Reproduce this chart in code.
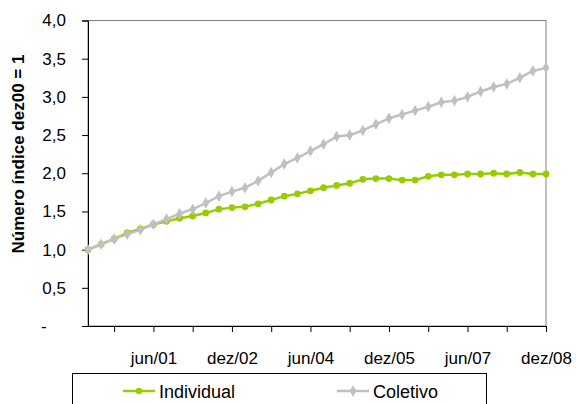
<!DOCTYPE html>
<html>
<head>
<meta charset="utf-8">
<script src="https://cdn.jsdelivr.net/npm/d3@7"></script>
<style>
  body { margin: 0; background: #fff; }
  svg { display: block; font-family: Arial, "Liberation Sans", sans-serif; }
</style>
</head>
<body>
<script>
// data - quarterly index, dez00 = 1
const quarters = [
  "mar/00", "jun/00", "set/00", "dez/00",
  "mar/01", "jun/01", "set/01", "dez/01",
  "mar/02", "jun/02", "set/02", "dez/02",
  "mar/03", "jun/03", "set/03", "dez/03",
  "mar/04", "jun/04", "set/04", "dez/04",
  "mar/05", "jun/05", "set/05", "dez/05",
  "mar/06", "jun/06", "set/06", "dez/06",
  "mar/07", "jun/07", "set/07", "dez/07",
  "mar/08", "jun/08", "set/08", "dez/08",
];
const individual = [
  1.00, 1.07, 1.14, 1.22, 1.27, 1.33, 1.37, 1.41, 1.44, 1.48, 1.53, 1.55,
  1.56, 1.60, 1.65, 1.70, 1.73, 1.77, 1.81, 1.84, 1.87, 1.92, 1.93, 1.93,
  1.91, 1.91, 1.96, 1.98, 1.98, 1.99, 1.99, 2.00, 1.99, 2.01, 1.99, 1.99,
];
const coletivo = [
  1.00, 1.07, 1.14, 1.20, 1.26, 1.33, 1.40, 1.47, 1.53, 1.61, 1.70, 1.76,
  1.81, 1.90, 2.01, 2.12, 2.20, 2.29, 2.38, 2.48, 2.50, 2.56, 2.64, 2.72,
  2.77, 2.82, 2.87, 2.93, 2.95, 3.00, 3.07, 3.13, 3.17, 3.25, 3.34, 3.38,
];
const yTicks = [0, 0.5, 1, 1.5, 2, 2.5, 3, 3.5, 4];
const seriesNames = ["Individual", "Coletivo"];
// ----------

const W = 576;
const H = 404;
const p = { t: 20.5, r: 30, b: 78, l: 88 };
const greenCol = "#99CC00";
const greyCol = "#C0C0C0";
const fontSize = 17;
// ----------

const svg = d3
  .select("body")
  .append("svg")
  .attr("width", W)
  .attr("height", H);

svg.append("rect").attr("width", W).attr("height", H).attr("fill", "#fff");

// scales
const x = d3
  .scalePoint()
  .domain(quarters)
  .range([p.l, W - p.r]);

const y = d3
  .scaleLinear()
  .domain([0, 4])
  .range([H - p.b, p.t]);
// ----------

// plot area border (grey)
svg
  .append("rect")
  .attr("x", p.l)
  .attr("y", y(4))
  .attr("width", x(quarters[quarters.length - 1]) - p.l)
  .attr("height", y(0) - y(4))
  .attr("fill", "none")
  .attr("stroke", "#808080")
  .attr("stroke-width", 1);

// y axis
const yAxis = svg
  .append("g")
  .attr("transform", `translate(${p.l}, 0)`)
  .call(
    d3
      .axisLeft(y)
      .tickValues(yTicks)
      .tickSize(6)
      .tickPadding(16)
      .tickFormat((d) => (d === 0 ? "-" : d3.format(".1f")(d).replace(".", ",")))
  );
yAxis.select(".domain").attr("stroke", "#000");
yAxis.selectAll(".tick line").attr("stroke", "#000");
yAxis
  .selectAll(".tick text")
  .attr("font-size", fontSize)
  .attr("font-family", "Arial, 'Liberation Sans', sans-serif")
  .attr("fill", "#000");
// the zero label sits further left, like the accounting format
yAxis
  .selectAll(".tick text")
  .filter((d) => d === 0)
  .attr("text-anchor", "start")
  .attr("x", -47);
// ----------

// x axis - ticks every 3 quarters, labels every 6
const xAxis = svg
  .append("g")
  .attr("transform", `translate(0, ${y(0)})`)
  .call(
    d3
      .axisBottom(x)
      .tickValues(quarters.filter((d, i) => i % 3 === 2))
      .tickSize(6)
      .tickSizeOuter(0)
      .tickPadding(20)
      .tickFormat((d) => (quarters.indexOf(d) % 6 === 5 ? d : ""))
  );
xAxis.select(".domain").attr("stroke", "#000");
xAxis.selectAll(".tick line").attr("stroke", "#000");
xAxis
  .selectAll(".tick text")
  .attr("font-size", fontSize)
  .attr("font-family", "Arial, 'Liberation Sans', sans-serif")
  .attr("fill", "#000");
// ----------

// y axis title
svg
  .append("text")
  .text("Número índice dez00 = 1")
  .attr("transform", `translate(24, 154) rotate(-90)`)
  .attr("text-anchor", "middle")
  .attr("font-size", 17)
  .attr("font-weight", "bold")
  .attr("fill", "#000");
// ----------

// lines
const lineGen = d3
  .line()
  .x((d, i) => x(quarters[i]))
  .y((d) => y(d));

const diamond = d3.symbol().type(d3.symbolDiamond).size(38);

const drawSeries = (data, col, isDiamond) => {
  const g = svg.append("g");
  g.append("path")
    .attr("d", lineGen(data))
    .attr("fill", "none")
    .attr("stroke", col)
    .attr("stroke-width", 2.5)
    .attr("stroke-linejoin", "round");
  if (isDiamond) {
    g.selectAll("path.mk")
      .data(data)
      .enter()
      .append("path")
      .attr("class", "mk")
      .attr("d", diamond)
      .attr("transform", (d, i) => `translate(${x(quarters[i])}, ${y(d)})`)
      .attr("fill", col);
  } else {
    g.selectAll("circle")
      .data(data)
      .enter()
      .append("circle")
      .attr("cx", (d, i) => x(quarters[i]))
      .attr("cy", (d) => y(d))
      .attr("r", 3.4)
      .attr("fill", col);
  }
}; // END drawSeries

drawSeries(individual, greenCol, false);
drawSeries(coletivo, greyCol, true);
// ----------

// legend
const legend = svg.append("g");
legend
  .append("rect")
  .attr("x", 72.5)
  .attr("y", 373.5)
  .attr("width", 414)
  .attr("height", 40)
  .attr("fill", "#fff")
  .attr("stroke", "#000")
  .attr("stroke-width", 1);

const legendItems = [
  { name: seriesNames[0], col: greenCol, x: 123, diamond: false },
  { name: seriesNames[1], col: greyCol, x: 337, diamond: true },
];
const ly = 391;
legendItems.forEach((it) => {
  legend
    .append("line")
    .attr("x1", it.x)
    .attr("x2", it.x + 32)
    .attr("y1", ly)
    .attr("y2", ly)
    .attr("stroke", it.col)
    .attr("stroke-width", 2.5);
  if (it.diamond) {
    legend
      .append("path")
      .attr("d", diamond)
      .attr("transform", `translate(${it.x + 16}, ${ly})`)
      .attr("fill", it.col);
  } else {
    legend
      .append("circle")
      .attr("cx", it.x + 16)
      .attr("cy", ly)
      .attr("r", 3.2)
      .attr("fill", it.col);
  }
  legend
    .append("text")
    .text(it.name)
    .attr("x", it.x + 36)
    .attr("y", ly + 6.5)
    .attr("font-size", 18)
    .attr("fill", "#000");
});
// ----------
</script>
</body>
</html>
